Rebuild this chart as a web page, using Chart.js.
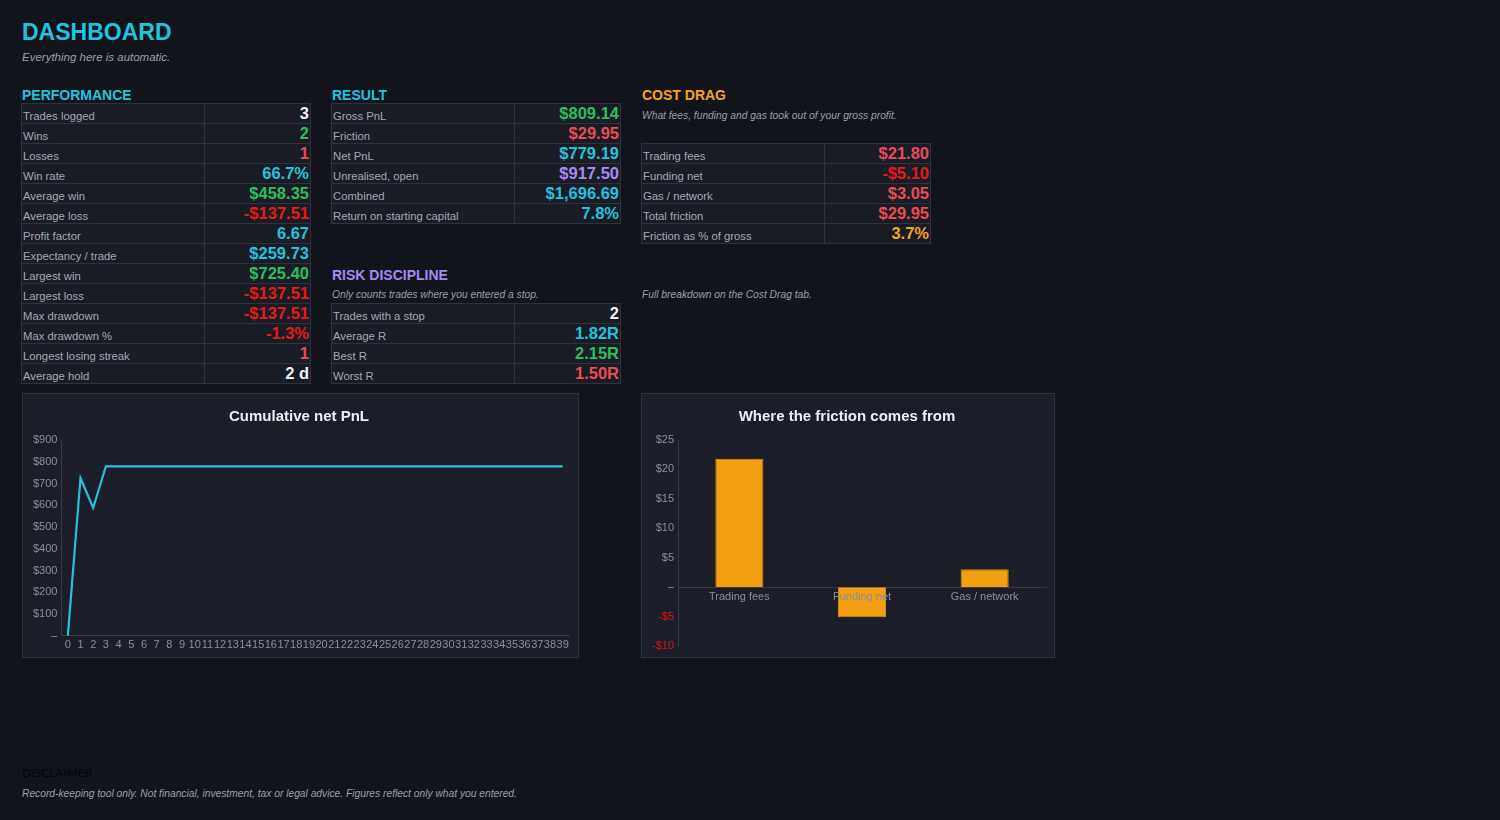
<!DOCTYPE html>
<html>
<head>
<meta charset="utf-8">
<title>Dashboard</title>
<script src="https://cdn.jsdelivr.net/npm/chart.js@4.4.1/dist/chart.umd.min.js"></script>
<style>
    body {
        margin: 0;
        width: 1500px;
        height: 820px;
        background: #12141b;
        font-family: "Liberation Sans", Arial, sans-serif;
        position: relative;
        overflow: hidden;
    }
    .abs { position: absolute; white-space: nowrap; }
    .title { left: 22px; top: 19px; font-size: 23px; font-weight: bold; color: #22c3dd; }
    .note { font-size: 10.25px; font-style: italic; color: #9a9eaa; }
    .head { font-size: 14px; font-weight: bold; }
    .sheet { position: absolute; border-collapse: collapse; background: #191c25; }
    .sheet td { border: 1px solid #2e323d; height: 19px; padding: 0 1px; vertical-align: bottom; }
    .sheet td.lbl { width: 180px; font-size: 11.3px; color: #a4a8b3; line-height: 13px; }
    .sheet td.val { width: 103px; text-align: right; font-size: 16.5px; font-weight: bold; line-height: 18px; }
    .sheet td.val span { position: relative; top: -1px; }
    .panel { position: absolute; background: #1b1e28; border: 1px solid #2e323d; box-sizing: border-box; }
    .panel canvas { position: absolute; left: 0; top: 0; }
    .cyan { color: #22c3dd; }
    .green { color: #2cbf5f; }
    .red { color: #ea4a55; }
    .neg { color: #e81818; }
    .purple { color: #a58bf0; }
    .orange { color: #f5a422; }
    .white { color: #f2f3f5; }
</style>
</head>
<body>

<div class="abs title">DASHBOARD</div>
<div class="abs note" style="left:22px; top:51px; font-size:11.5px;">Everything here is automatic.</div>

<div class="abs head cyan" style="left:22px; top:87px;">PERFORMANCE</div>
<table class="sheet" id="perfTable" style="left:21px; top:103px;"></table>

<div class="abs head cyan" style="left:332px; top:87px;">RESULT</div>
<table class="sheet" id="resultTable" style="left:331px; top:103px;"></table>

<div class="abs head purple" style="left:332px; top:267px;">RISK DISCIPLINE</div>
<div class="abs note" style="left:332px; top:289px;">Only counts trades where you entered a stop.</div>
<table class="sheet" id="riskTable" style="left:331px; top:303px;"></table>

<div class="abs head orange" style="left:642px; top:87px;">COST DRAG</div>
<div class="abs note" style="left:642px; top:110px;">What fees, funding and gas took out of your gross profit.</div>
<table class="sheet" id="costTable" style="left:641px; top:143px;"></table>
<div class="abs note" style="left:642px; top:289px;">Full breakdown on the Cost Drag tab.</div>

<div class="panel" style="left:22px; top:393px; width:557px; height:265px;">
    <canvas id="pnlChart"></canvas>
</div>
<div class="panel" style="left:641px; top:393px; width:414px; height:265px;">
    <canvas id="frictionChart"></canvas>
</div>

<div class="abs" style="left:22px; top:765px; font-family: Lato, sans-serif; font-size:12px; color:#050507;">DISCLAIMER</div>
<div class="abs note" style="left:22px; top:788px;">Record-keeping tool only. Not financial, investment, tax or legal advice. Figures reflect only what you entered.</div>

<script>
// Table contents
const perfLabels = ['Trades logged', 'Wins', 'Losses', 'Win rate', 'Average win', 'Average loss', 'Profit factor',
    'Expectancy / trade', 'Largest win', 'Largest loss', 'Max drawdown', 'Max drawdown %', 'Longest losing streak', 'Average hold'];
const perfValues = ['3', '2', '1', '66.7%', '$458.35', '-$137.51', '6.67', '$259.73', '$725.40', '-$137.51', '-$137.51', '-1.3%', '1', '2 d'];

const resultLabels = ['Gross PnL', 'Friction', 'Net PnL', 'Unrealised, open', 'Combined', 'Return on starting capital'];
const resultValues = ['$809.14', '$29.95', '$779.19', '$917.50', '$1,696.69', '7.8%'];

const riskLabels = ['Trades with a stop', 'Average R', 'Best R', 'Worst R'];
const riskValues = ['2', '1.82R', '2.15R', '1.50R'];

const costLabels = ['Trading fees', 'Funding net', 'Gas / network', 'Total friction', 'Friction as % of gross'];
const costValues = ['$21.80', '-$5.10', '$3.05', '$29.95', '3.7%'];

// Chart data
const tradeIndex = ['0', '1', '2', '3', '4', '5', '6', '7', '8', '9', '10', '11', '12', '13', '14', '15', '16', '17', '18', '19',
    '20', '21', '22', '23', '24', '25', '26', '27', '28', '29', '30', '31', '32', '33', '34', '35', '36', '37', '38', '39'];
const cumulativePnl = [0, 725.40, 587.89, 779.19, 779.19, 779.19, 779.19, 779.19, 779.19, 779.19,
    779.19, 779.19, 779.19, 779.19, 779.19, 779.19, 779.19, 779.19, 779.19, 779.19,
    779.19, 779.19, 779.19, 779.19, 779.19, 779.19, 779.19, 779.19, 779.19, 779.19,
    779.19, 779.19, 779.19, 779.19, 779.19, 779.19, 779.19, 779.19, 779.19, 779.19];

const frictionCategories = ['Trading fees', 'Funding net', 'Gas / network'];
const frictionValues = [21.80, -5.10, 3.05];

// Value colours, looked up by label
const toneOf = {
    'Trades logged': 'white', 'Wins': 'green', 'Losses': 'red', 'Win rate': 'cyan', 'Average win': 'green',
    'Average loss': 'neg', 'Profit factor': 'cyan', 'Expectancy / trade': 'cyan', 'Largest win': 'green',
    'Largest loss': 'neg', 'Max drawdown': 'neg', 'Max drawdown %': 'neg', 'Longest losing streak': 'red',
    'Average hold': 'white', 'Gross PnL': 'green', 'Friction': 'red', 'Net PnL': 'cyan', 'Unrealised, open': 'purple',
    'Combined': 'cyan', 'Return on starting capital': 'cyan', 'Trades with a stop': 'white', 'Average R': 'cyan',
    'Best R': 'green', 'Worst R': 'red', 'Trading fees': 'red', 'Funding net': 'neg', 'Gas / network': 'red',
    'Total friction': 'red', 'Friction as % of gross': 'orange'
};

function fillTable(id, labels, values) {
    document.getElementById(id).innerHTML = labels.map((label, i) =>
        `<tr><td class="lbl">${label}</td><td class="val ${toneOf[label]}"><span>${values[i]}</span></td></tr>`
    ).join('');
}

fillTable('perfTable', perfLabels, perfValues);
fillTable('resultTable', resultLabels, resultValues);
fillTable('riskTable', riskLabels, riskValues);
fillTable('costTable', costLabels, costValues);

Chart.defaults.font.family = '"Liberation Sans", Arial, sans-serif';
Chart.defaults.animation = false;

const tickGrey = '#8a8e9a';
const axisLine = '#353945';

function money(v) {
    if (v === 0) return '–';
    return (v < 0 ? '-$' : '$') + Math.abs(v);
}

new Chart(document.getElementById('pnlChart'), {
    type: 'line',
    data: {
        labels: tradeIndex,
        datasets: [{
            data: cumulativePnl,
            borderColor: '#22c3dd',
            borderWidth: 2.2,
            pointRadius: 0,
            tension: 0
        }]
    },
    options: {
        responsive: true,
        maintainAspectRatio: false,
        layout: { padding: { left: 6, right: 9, top: 6, bottom: 2 } },
        plugins: {
            legend: { display: false },
            tooltip: { enabled: false },
            title: {
                display: true,
                text: 'Cumulative net PnL',
                color: '#eceef2',
                font: { size: 15, weight: 'bold' },
                padding: { top: 8, bottom: 14 }
            }
        },
        scales: {
            x: {
                offset: true,
                grid: { display: false, drawTicks: false },
                border: { display: true, color: axisLine },
                ticks: { color: tickGrey, font: { size: 11 }, autoSkip: false, maxRotation: 0, padding: 3 }
            },
            y: {
                min: 0,
                max: 900,
                grid: { display: false, drawTicks: false },
                border: { display: true, color: axisLine },
                ticks: { stepSize: 100, color: tickGrey, font: { size: 11 }, padding: 4, callback: money }
            }
        }
    }
});

new Chart(document.getElementById('frictionChart'), {
    type: 'bar',
    data: {
        labels: frictionCategories,
        datasets: [{
            data: frictionValues,
            backgroundColor: '#f39f12',
            borderColor: '#d98a0a',
            borderWidth: 1,
            barPercentage: 0.8,
            categoryPercentage: 0.49
        }]
    },
    options: {
        responsive: true,
        maintainAspectRatio: false,
        layout: { padding: { left: 6, right: 8, top: 6, bottom: 11 } },
        plugins: {
            legend: { display: false },
            tooltip: { enabled: false },
            title: {
                display: true,
                text: 'Where the friction comes from',
                color: '#eceef2',
                font: { size: 15, weight: 'bold' },
                padding: { top: 8, bottom: 14 }
            }
        },
        scales: {
            x: {
                position: { y: 0 },
                grid: { display: false, drawTicks: false },
                border: { display: true, color: axisLine },
                // labels sit on top of the bars, as in the sheet
                ticks: { z: 1, color: tickGrey, font: { size: 11 }, padding: 3 }
            },
            y: {
                min: -10,
                max: 25,
                grid: { display: false, drawTicks: false },
                border: { display: true, color: axisLine },
                ticks: {
                    stepSize: 5,
                    font: { size: 11 },
                    padding: 4,
                    callback: money,
                    color: ctx => ctx.tick && ctx.tick.value < 0 ? '#d81414' : tickGrey
                }
            }
        }
    }
});
</script>
</body>
</html>
